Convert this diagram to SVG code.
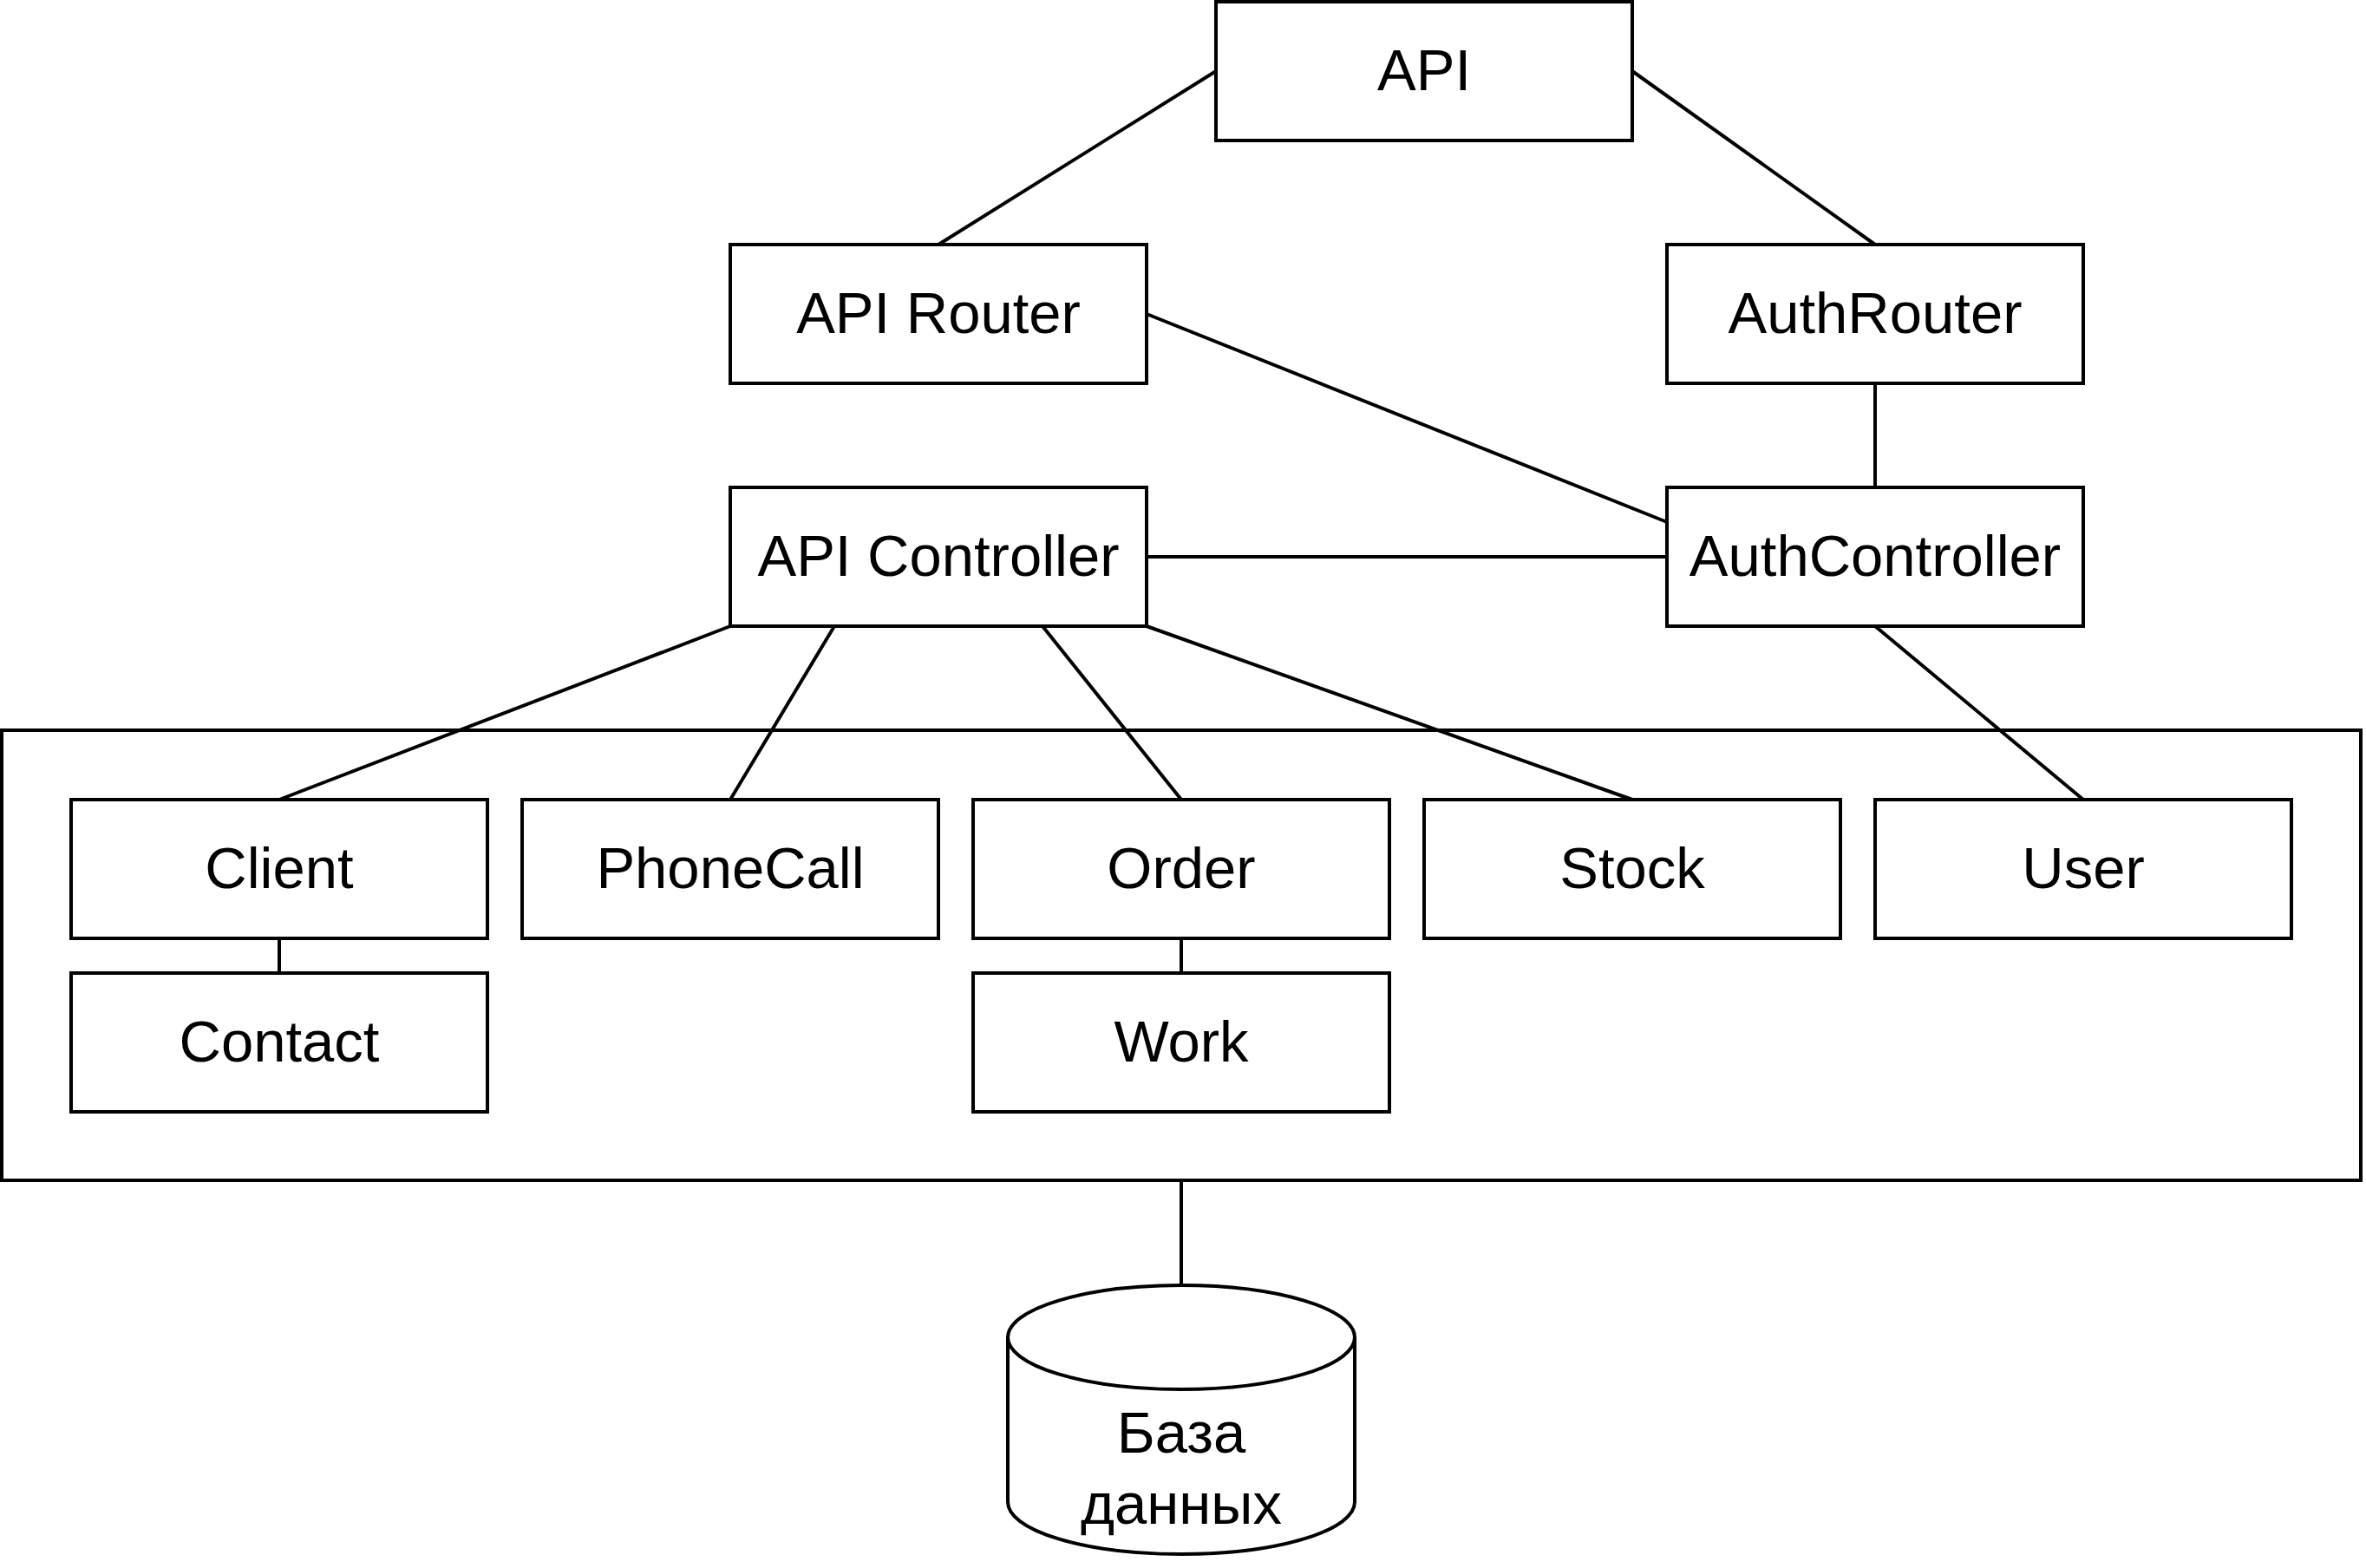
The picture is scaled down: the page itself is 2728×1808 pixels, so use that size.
<svg xmlns="http://www.w3.org/2000/svg" width="2728" height="1808" viewBox="0 0 2728 1808">
  <style>
    .box { fill: #ffffff; stroke: #000000; stroke-width: 4; }
    .frame { fill: #ffffff; stroke: #000000; stroke-width: 4; }
    .lbl { font-family: "Liberation Sans", Arial, Helvetica, sans-serif; font-size: 67px; fill: #000000; text-anchor: middle; }
    .conn line { stroke: #000000; stroke-width: 4; fill: none; }
    .cyl { fill: #ffffff; stroke: #000000; stroke-width: 4; }
  </style>
  <rect x="0" y="0" width="2728" height="1808" fill="#ffffff"/>

  <g id="models-container">
    <rect class="frame" x="2" y="842" width="2720" height="519"/>
  </g>

  <g id="connectors" class="conn">
    <line x1="1402" y1="82" x2="1082" y2="282"/>
    <line x1="1882" y1="82" x2="2162" y2="282"/>
    <line x1="1322" y1="362" x2="1922" y2="602"/>
    <line x1="2162" y1="442" x2="2162" y2="562"/>
    <line x1="1322" y1="642" x2="1922" y2="642"/>
    <line x1="842" y1="722" x2="322" y2="922"/>
    <line x1="962" y1="722" x2="842" y2="922"/>
    <line x1="1202" y1="722" x2="1362" y2="922"/>
    <line x1="1322" y1="722" x2="1882" y2="922"/>
    <line x1="2162" y1="722" x2="2402" y2="922"/>
    <line x1="322" y1="1082" x2="322" y2="1122"/>
    <line x1="1362" y1="1082" x2="1362" y2="1122"/>
    <line x1="1362" y1="1361" x2="1362" y2="1482"/>
  </g>

  <g id="api">
    <rect class="box" x="1402" y="2" width="480" height="160"/>
    <text class="lbl" x="1642" y="104">API</text>
  </g>
  <g id="api-router">
    <rect class="box" x="842" y="282" width="480" height="160"/>
    <text class="lbl" x="1082" y="384">API Router</text>
  </g>
  <g id="auth-router">
    <rect class="box" x="1922" y="282" width="480" height="160"/>
    <text class="lbl" x="2162" y="384">AuthRouter</text>
  </g>
  <g id="api-controller">
    <rect class="box" x="842" y="562" width="480" height="160"/>
    <text class="lbl" x="1082" y="664">API Controller</text>
  </g>
  <g id="auth-controller">
    <rect class="box" x="1922" y="562" width="480" height="160"/>
    <text class="lbl" x="2162" y="664">AuthController</text>
  </g>
  <g id="client">
    <rect class="box" x="82" y="922" width="480" height="160"/>
    <text class="lbl" x="322" y="1024">Client</text>
  </g>
  <g id="phonecall">
    <rect class="box" x="602" y="922" width="480" height="160"/>
    <text class="lbl" x="842" y="1024">PhoneCall</text>
  </g>
  <g id="order">
    <rect class="box" x="1122" y="922" width="480" height="160"/>
    <text class="lbl" x="1362" y="1024">Order</text>
  </g>
  <g id="stock">
    <rect class="box" x="1642" y="922" width="480" height="160"/>
    <text class="lbl" x="1882" y="1024">Stock</text>
  </g>
  <g id="user">
    <rect class="box" x="2162" y="922" width="480" height="160"/>
    <text class="lbl" x="2402" y="1024">User</text>
  </g>
  <g id="contact">
    <rect class="box" x="82" y="1122" width="480" height="160"/>
    <text class="lbl" x="322" y="1224">Contact</text>
  </g>
  <g id="work">
    <rect class="box" x="1122" y="1122" width="480" height="160"/>
    <text class="lbl" x="1362" y="1224">Work</text>
  </g>
  <g id="database">
    <path class="cyl" d="M1162,1542 A200,60 0 0 1 1562,1542 L1562,1732 A200,60 0 0 1 1162,1732 Z"/>
    <path class="cyl" fill="none" d="M1162,1542 A200,60 0 0 0 1562,1542"/>
    <text class="lbl" x="1362" y="1675">База</text>
    <text class="lbl" x="1362" y="1757">данных</text>
  </g>
</svg>
